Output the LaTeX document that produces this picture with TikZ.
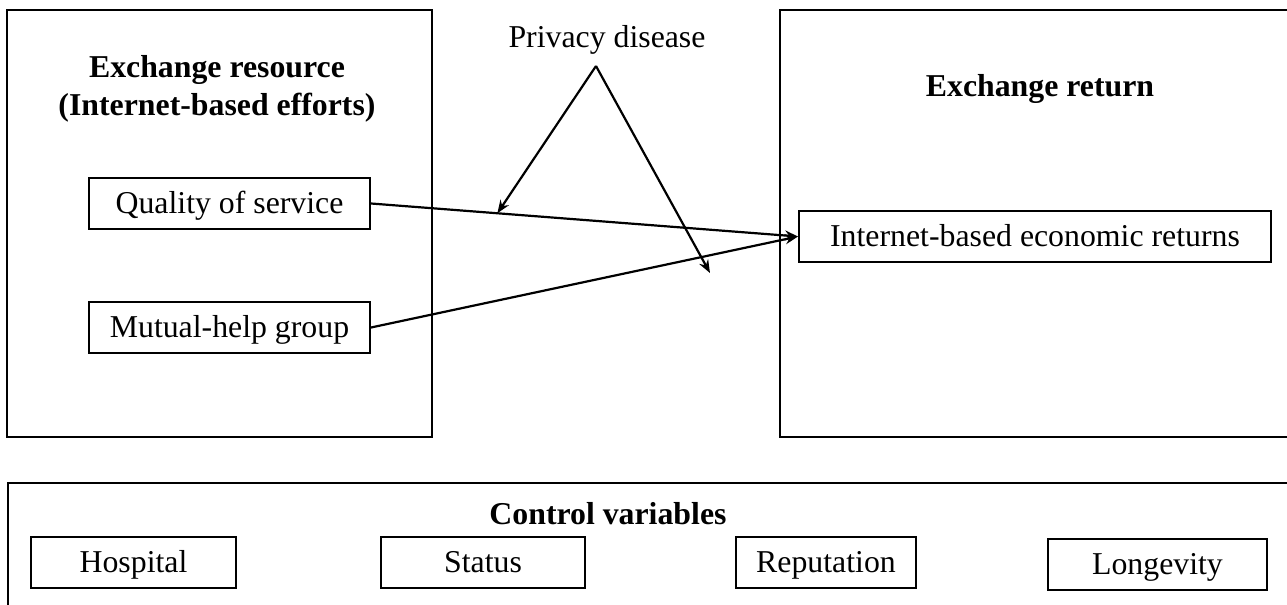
\documentclass[tikz,border=0pt]{standalone}
\usepackage{fontspec}
\setmainfont{Liberation Serif}
\usetikzlibrary{arrows.meta,calc}
\begin{document}
\begin{tikzpicture}[x=0.5pt,y=-0.5pt,
  box/.style={draw,line width=1pt,minimum height=25.5pt,inner sep=0pt,text height=12pt,text depth=2pt,font=\fontsize{15.9}{19}\selectfont},
  frame/.style={draw,line width=1pt},
  lbl/.style={font=\fontsize{15.9}{19}\selectfont,inner sep=0pt,align=center},
  ttl/.style={font=\fontsize{15.9}{19}\selectfont\bfseries,inner sep=0pt,align=center},
  conn/.style={line width=1.1pt,-{Stealth[length=6.5pt,width=5pt]}}]
\useasboundingbox (0,0) rectangle (1287,605);
\clip (0,0) rectangle (1287,605);
\draw[frame] (7,10) rectangle (432,437);
\draw[frame] (780,10) rectangle (1295,437);
\draw[frame] (8,483) rectangle (1295,615);
\node[ttl] (t1) at (217,89) {Exchange resource\\(Internet-based efforts)};
\node[ttl] (t2) at (1040,89) {Exchange return};
\node[lbl] (pd) at (607,40) {Privacy disease};
\node[box,minimum width=140.5pt] (q) at (229.5,203.5) {Quality of service};
\node[box,minimum width=140.5pt] (m) at (229.5,327.5) {Mutual-help group};
\node[box,minimum width=236pt] (r) at (1035,236.5) {Internet-based economic returns};
\node[ttl] (cv) at (608,514) {Control variables};
\node[box,minimum width=102.5pt] (h) at (133.5,562.5) {Hospital};
\node[box,minimum width=102pt] (s) at (483,562) {Status};
\node[box,minimum width=90pt] (rep) at (826,562) {Reputation};
\node[box,minimum width=109.5pt] (l) at (1157.5,564.5) {Longevity};
\coordinate (apex) at (596,66);
\coordinate (mod1) at ($(q.east)!0.296!(r.west)$);
\coordinate (mod2) at (710,273);
\draw[conn] (q.east) -- (r.west);
\draw[conn] (m.east) -- (r.west);
\draw[conn] (apex) -- (mod1);
\draw[conn] (apex) -- (mod2);
\end{tikzpicture}
\end{document}
